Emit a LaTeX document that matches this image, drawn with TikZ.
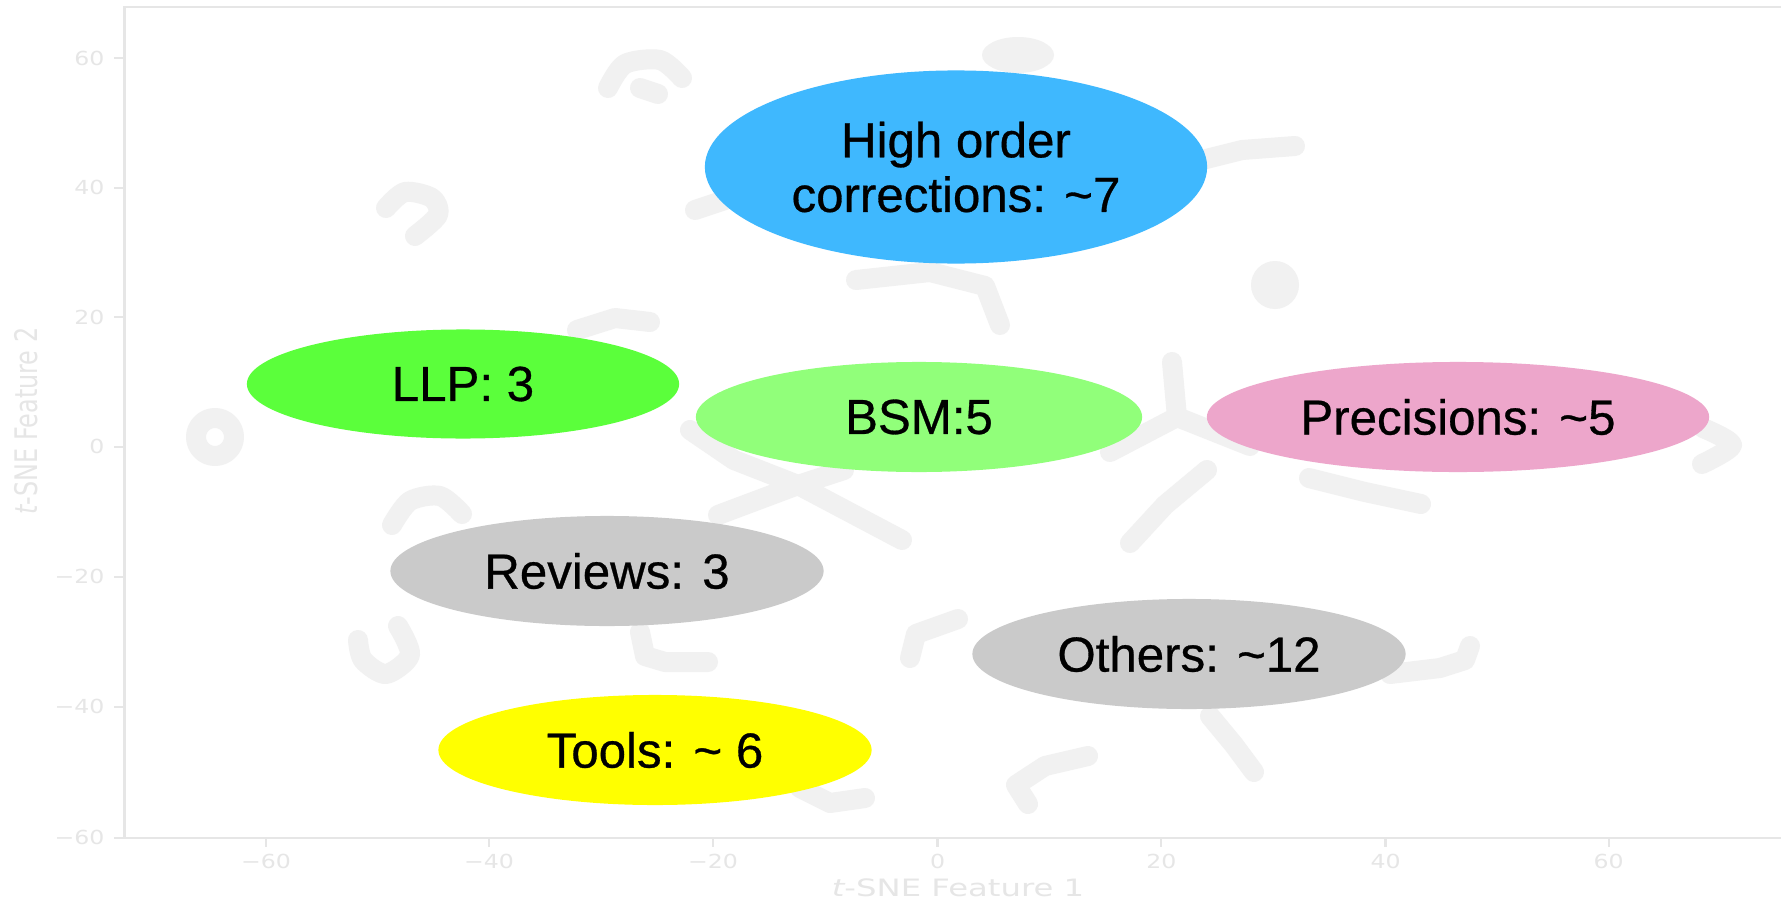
\documentclass[tikz,border=0pt]{standalone}
\usepackage{graphicx}
\usepackage{fontspec}
\setmainfont{Liberation Sans}
\newfontfamily\axfont{DejaVu Sans}
\usetikzlibrary{shapes.geometric}
\definecolor{hoc}{HTML}{3FB8FE}
\definecolor{llp}{HTML}{5BFF3B}
\definecolor{bsm}{HTML}{91FF7A}
\definecolor{prec}{HTML}{EDA6CB}
\definecolor{grayell}{HTML}{CACACA}
\definecolor{tools}{HTML}{FFFF00}
\definecolor{axisc}{HTML}{E6E6E6}
\definecolor{blobc}{HTML}{F1F1F1}
\tikzset{
  topic/.style={ellipse, inner sep=0pt, align=center, text=black,
    font=\fontsize{14}{15.5}\selectfont\addfontfeature{FakeBold=0.6}},
  blob/.style={draw=blobc, line width=0.2cm, line cap=round, line join=round},
  ticklab/.style={text=axisc, inner sep=0pt, font=\axfont\fontsize{5.5}{6.5}\selectfont},
  axtitle/.style={text=axisc, inner sep=0pt, font=\axfont\fontsize{6.8}{8}\selectfont},
  axline/.style={draw=axisc, line width=0.6pt}
}
\begin{document}
\begin{tikzpicture}[x=0.01cm,y=-0.01cm]
\useasboundingbox[fill=white] (0,0) rectangle (1781,900);

% faint t-SNE clusters in the background
\draw[blob] plot[smooth] coordinates {(608,88) (625,64) (660,60) (682,78)};
\draw[blob] (640,88) -- (658,94);
\fill[blobc] (1018,55) ellipse [x radius=36, y radius=18];
\draw[blob] plot[smooth] coordinates {(386,208) (405,192) (432,198) (438,215) (415,236)};
\draw[blob] (695,210) -- (725,200);
\draw[blob] (1202,160) -- (1242,150) -- (1295,146);
\draw[blob] (856,280) -- (930,272) -- (985,286) -- (1000,325);
\fill[blobc] (1275,285) circle [radius=24];
\draw[blob] (577,330) -- (615,318) -- (650,322);
\draw[blob] (215,437) circle [radius=19];
\draw[blob] (690,430) -- (734,460) -- (798,485) -- (902,540);
\draw[blob] (798,485) -- (718,515);
\draw[blob] (798,485) -- (844,470);
\draw[blob] (1172,362) -- (1177,417) -- (1110,452);
\draw[blob] (1177,417) -- (1250,446);
\draw[blob] (1207,470) -- (1165,505) -- (1130,543);
\draw[blob] (1309,478) -- (1365,492) -- (1421,504);
\draw[blob] plot[smooth] coordinates {(1703,428) (1732,445) (1702,464)};
\draw[blob] plot[smooth] coordinates {(392,525) (410,501) (440,496) (462,514)};
\draw[blob] plot[smooth] coordinates {(398,626) (410,655) (386,674) (363,660) (358,640)};
\draw[blob] (640,632) -- (645,656) -- (665,662) -- (708,662);
\draw[blob] (910,658) -- (916,634) -- (958,619);
\draw[blob] (800,788) -- (830,803) -- (865,798);
\draw[blob] (1088,756) -- (1045,766) -- (1016,785) -- (1028,804);
\draw[blob] (1390,674) -- (1440,668) -- (1465,660) -- (1470,646);
\draw[blob] (1210,716) -- (1234,745) -- (1254,772);

% axes frame
\coordinate (tl) at (124.5,6.7);
\coordinate (tr) at (1781,6.7);
\coordinate (bl) at (124.5,838);
\coordinate (br) at (1781,838);
\draw[axline] (tr) -- (tl) -- (bl) -- (br);

% y ticks
\foreach \yy/\lab [count=\i] in {58/60,187.7/40,317.3/20,446.7/0,576.7/−20,706.7/−40,837.7/−60}{
  \coordinate (ya\i) at (124.5,\yy);
  \coordinate (yb\i) at (114,\yy);
  \draw[axline] (ya\i) -- (yb\i);
  \node[ticklab, anchor=east] (ytl\i) at (105,\yy) {\scalebox{1.22}[1]{\lab}};
}
% x ticks
\foreach \xx/\lab [count=\i] in {266/−60,489/−40,713/−20,937.5/0,1161.4/20,1385.5/40,1608.6/60}{
  \coordinate (xa\i) at (\xx,838);
  \coordinate (xb\i) at (\xx,847);
  \draw[axline] (xa\i) -- (xb\i);
  \node[ticklab] (xtl\i) at (\xx,861) {\scalebox{1.22}[1]{\lab}};
}
\node[axtitle] (xtitle) at (958,888) {\scalebox{1.35}[1]{{\itshape t}-SNE Feature 1}};
\node[axtitle, rotate=90] (ytitle) at (26,421) {\scalebox{1}[1.3]{{\itshape t}-SNE Feature 2}};

% topic ellipses
\node[topic, fill=hoc, minimum width=5.02cm, minimum height=1.93cm] (hoc) at (956,167)
  {High order\\corrections: \textasciitilde7};
\node[topic, fill=llp, minimum width=4.32cm, minimum height=1.09cm] (llp) at (463,384)
  {LLP: 3};
\node[topic, fill=bsm, minimum width=4.46cm, minimum height=1.10cm] (bsm) at (919,417)
  {BSM:5};
\node[topic, fill=prec, minimum width=5.02cm, minimum height=1.10cm] (prec) at (1458,417)
  {Precisions: \textasciitilde5};
\node[topic, fill=grayell, minimum width=4.33cm, minimum height=1.10cm] (rev) at (607,571)
  {Reviews: 3};
\node[topic, fill=grayell, minimum width=4.33cm, minimum height=1.10cm] (oth) at (1189,654)
  {Others: \textasciitilde12};
\node[topic, fill=tools, minimum width=4.33cm, minimum height=1.10cm] (tools) at (655,750)
  {Tools: \textasciitilde\ 6};
\end{tikzpicture}
\end{document}
